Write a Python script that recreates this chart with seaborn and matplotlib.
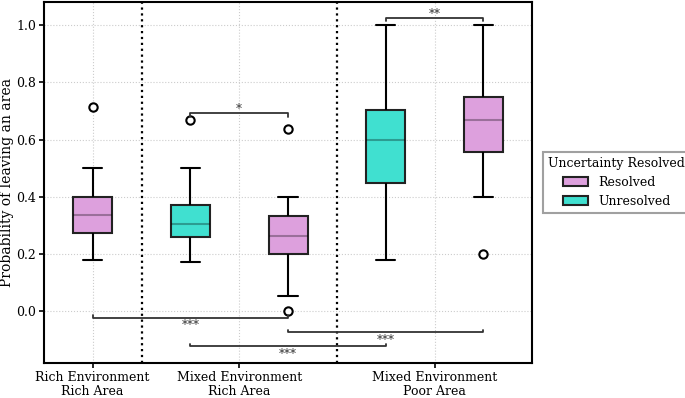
import pandas as pd
import seaborn as sns
from matplotlib import pyplot as plt

# one box per condition
conditions = ['RE_RA_R', 'ME_RA_U', 'ME_RA_R', 'ME_PA_U', 'ME_PA_R']
resolved_status = ['Resolved', 'Unresolved', 'Resolved', 'Unresolved', 'Resolved']
rich_env_rich_area_res = [0.18, 0.25, 0.274, 0.30, 0.338, 0.37, 0.40, 0.50, 0.712]
mixed_env_rich_area_unres = [0.172, 0.22, 0.259, 0.28, 0.304, 0.34, 0.372, 0.50, 0.668]
mixed_env_rich_area_res = [0.0, 0.055, 0.20, 0.23, 0.264, 0.30, 0.332, 0.40, 0.636]
mixed_env_poor_area_unres = [0.181, 0.30, 0.447, 0.52, 0.598, 0.65, 0.704, 0.85, 1.0]
mixed_env_poor_area_res = [0.20, 0.40, 0.555, 0.60, 0.667, 0.70, 0.75, 0.90, 1.0]
tick_labels = ['Rich Environment\nRich Area', 'Mixed Environment\nRich Area',
               'Mixed Environment\nPoor Area']
# (box a, box b, level, stars)
comparisons = [(1, 2, 0.68, '*'), (3, 4, 1.012, '**'),
               (0, 2, -0.022, '***'), (2, 4, -0.072, '***'), (1, 3, -0.122, '***')]

rows = []
for cond, status, vals in zip(conditions, resolved_status,
                              [rich_env_rich_area_res, mixed_env_rich_area_unres,
                               mixed_env_rich_area_res, mixed_env_poor_area_unres,
                               mixed_env_poor_area_res]):
    for v in vals:
        rows.append((cond, status, v))
df = pd.DataFrame(rows, columns=['condition', 'Uncertainty Resolved', 'prob'])

sns.set_style('ticks')
plt.rcParams['font.family'] = ['DejaVu Serif']
plt.rcParams['text.color'] = 'black'
plt.rcParams['axes.labelcolor'] = 'black'
plt.rcParams['xtick.color'] = 'black'
plt.rcParams['ytick.color'] = 'black'

fig, ax = plt.subplots(figsize=(6.85, 3.98), dpi=100)
fig.subplots_adjust(left=0.064, right=0.777, top=0.995, bottom=0.088)

sns.boxplot(data=df, x='condition', y='prob', hue='Uncertainty Resolved',
            order=conditions, hue_order=['Resolved', 'Unresolved'],
            palette={'Resolved': '#dda0dd', 'Unresolved': '#40e0d0'},
            saturation=1, dodge=False, width=0.4, linewidth=1.5, linecolor='#222222',
            whiskerprops=dict(color='black'), capprops=dict(color='black'),
            medianprops=dict(color='black', alpha=0.3),
            flierprops=dict(marker='o', markersize=6, markerfacecolor='white',
                            markeredgecolor='black', markeredgewidth=1.5),
            ax=ax)

for xv in [0.5, 2.5]:
    ax.axvline(xv, color='black', ls=':', lw=1.6, zorder=1)

for a, b, level, stars in comparisons:
    if level > 0.5:
        ax.plot([a, a, b, b], [level, level + 0.012, level + 0.012, level],
                color='#333333', lw=1.3)
        ax.text((a + b) / 2, level + 0.013, stars, ha='center', va='baseline',
                fontsize=8.5, color='#333333')
    else:
        ax.plot([a, a, b, b], [level + 0.008, level, level, level + 0.008],
                color='#333333', lw=1.3)
        ax.text((a + b) / 2, level - 0.006, stars, ha='center', va='top',
                fontsize=8.5, color='#333333')

ax.set_xlim(-0.5, 4.5)
ax.set_ylim(-0.18, 1.08)
ax.set_xticks([0, 1.5, 3.5])
ax.set_xticklabels(tick_labels, fontsize=9, linespacing=1.1)
ax.set_yticks([0.0, 0.2, 0.4, 0.6, 0.8, 1.0])
ax.set_yticklabels(['0.0', '0.2', '0.4', '0.6', '0.8', '1.0'], fontsize=9)
ax.tick_params(length=3.5, width=1.2, pad=2)
ax.set_xlabel('')
ax.set_ylabel('Probability of leaving an area', fontsize=10, labelpad=2)
ax.grid(True, ls=':', color='#cccccc', lw=0.8)
ax.set_axisbelow(True)
for s in ax.spines.values():
    s.set_linewidth(1.5)
    s.set_color('black')

sns.move_legend(ax, 'center left', bbox_to_anchor=(1.01, 0.5),
                title='Uncertainty Resolved', fontsize=9, title_fontsize=9,
                frameon=True, fancybox=False, edgecolor='#888888')
ax.get_legend().get_frame().set_linewidth(1.5)

fig.savefig('out.png', dpi=100)
